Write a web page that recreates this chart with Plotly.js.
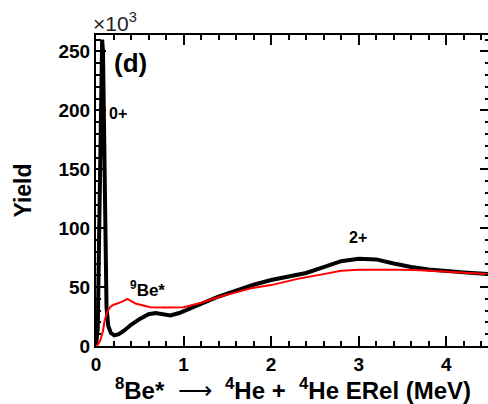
<!DOCTYPE html>
<html>
<head>
<meta charset="utf-8">
<script src="https://cdn.plot.ly/plotly-3.0.1.min.js"></script>
<style>html,body{margin:0;padding:0;overflow:hidden;background:#fff}</style>
</head>
<body>
<div id="chart"></div>
<script>
// Energy (MeV) and yields (x10^3)
const blackX = [0, 0.02, 0.035, 0.05, 0.06, 0.07, 0.08, 0.09, 0.1, 0.11, 0.12, 0.14, 0.17, 0.21, 0.26, 0.32, 0.4, 0.5, 0.6, 0.68, 0.76, 0.85, 0.95, 1.05, 1.2, 1.4, 1.6, 1.8, 2.0, 2.2, 2.4, 2.6, 2.8, 3.0, 3.2, 3.4, 3.6, 3.8, 4.0, 4.2, 4.5];
const blackY = [0, 15, 90, 190, 240, 260, 250, 195, 125, 65, 33, 17, 11, 9, 10, 13, 18, 23, 27, 28, 27, 26, 28, 31, 36, 42, 47, 52, 56, 59, 62, 67, 72, 74, 73.5, 70, 67, 65, 63.5, 62.5, 61];
const redX = [0, 0.03, 0.05, 0.08, 0.1, 0.13, 0.16, 0.2, 0.28, 0.36, 0.45, 0.55, 0.62, 0.8, 1.0, 1.2, 1.42, 1.6, 1.77, 2.0, 2.34, 2.6, 2.8, 3.0, 3.26, 3.5, 3.7, 4.0, 4.2, 4.5];
const redY = [0, 2, 5, 13, 22, 29, 33, 35, 37, 40, 36, 34, 33, 32.6, 33, 36.7, 42, 45.5, 49, 51.7, 57.6, 61, 63.8, 64.8, 65, 64.8, 64.4, 63, 62, 61];
const xTicks = [0, 1, 2, 3, 4];
const yTicks = [0, 50, 100, 150, 200, 250];

const FAM = 'Liberation Sans, Arial, sans-serif';
const tickFont = {family: FAM, size: 19, color: '#000', weight: 'bold'};
const labFont = {family: FAM, size: 16, color: '#000', weight: 'bold'};

const traces = [
  {x: blackX, y: blackY, type: 'scatter', mode: 'lines', line: {color: '#000', width: 4}, hoverinfo: 'skip'},
  {x: redX, y: redY, type: 'scatter', mode: 'lines', line: {color: '#ff0000', width: 2}, hoverinfo: 'skip'}
];

const layout = {
  width: 490, height: 404,
  margin: {l: 96, r: 0, t: 35, b: 58},
  paper_bgcolor: '#fff', plot_bgcolor: '#fff',
  showlegend: false,
  xaxis: {
    range: [0, 4.5], tickvals: xTicks, ticktext: xTicks.map(String),
    ticks: 'inside', ticklen: 10, tickwidth: 2, tickcolor: '#000',
    minor: {ticks: 'inside', ticklen: 5, tickwidth: 2, tickcolor: '#000', dtick: 0.2},
    showline: true, linecolor: '#000', linewidth: 2, mirror: 'ticks',
    showgrid: false, zeroline: false, tickfont: tickFont,
    title: {text: '<sup>8</sup>Be*\u00a0\u00a0<span style="font-weight:normal">\u27f6</span>\u00a0\u00a0<sup>4</sup>He\u00a0+\u00a0\u00a0<sup>4</sup>He ERel (MeV)', font: {family: FAM, size: 24, color: '#000', weight: 'bold'}, standoff: 5}
  },
  yaxis: {
    range: [0, 264], tickvals: yTicks, ticktext: yTicks.map(String),
    ticks: 'inside', ticklen: 10, tickwidth: 2, tickcolor: '#000',
    minor: {ticks: 'inside', ticklen: 5, tickwidth: 2, tickcolor: '#000', dtick: 10},
    showline: true, linecolor: '#000', linewidth: 2, mirror: 'ticks',
    showgrid: false, zeroline: false, tickfont: tickFont,
    title: {text: 'Yield', font: {family: FAM, size: 23, color: '#000', weight: 'bold'}, standoff: 20}
  },
  annotations: [
    {x: 0.185, y: 240, xref: 'x', yref: 'y', text: '(d)', showarrow: false, xanchor: 'left', yanchor: 'middle', font: {family: FAM, size: 26, color: '#000', weight: 'bold'}},
    {x: 0.13, y: 197.5, xref: 'x', yref: 'y', text: '0+', showarrow: false, xanchor: 'left', yanchor: 'middle', font: labFont},
    {x: 0.37, y: 48, xref: 'x', yref: 'y', text: '<sup>9</sup>Be*', showarrow: false, xanchor: 'left', yanchor: 'middle', font: {family: FAM, size: 17, color: '#000', weight: 'bold'}},
    {x: 2.99, y: 92.4, xref: 'x', yref: 'y', text: '2+', showarrow: false, xanchor: 'center', yanchor: 'middle', font: labFont},
    {x: -0.012, y: 1.0, xref: 'paper', yref: 'paper', text: '\u00d710<sup>3</sup>', showarrow: false, xanchor: 'left', yanchor: 'bottom', yshift: -2, font: {family: FAM, size: 21, color: '#222'}}
  ]
};

Plotly.newPlot('chart', traces, layout, {staticPlot: true, displayModeBar: false});
</script>
</body>
</html>
